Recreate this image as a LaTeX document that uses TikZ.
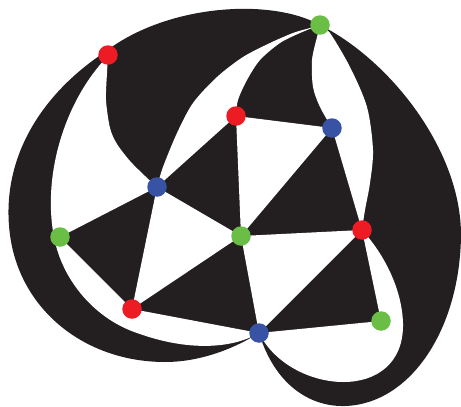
\documentclass[tikz,border=0pt]{standalone}
\definecolor{ink}{HTML}{231F20}
\definecolor{vred}{HTML}{ED1C24}
\definecolor{vgreen}{HTML}{6ABD45}
\definecolor{vblue}{HTML}{3953A4}
\tikzset{
  vtx/.style={circle, inner sep=0pt, minimum size=19.5pt, draw=none},
  darkface/.style={fill=ink},
  lightface/.style={fill=white},
}
\begin{document}
\begin{tikzpicture}[x=1pt, y=-1pt]
\useasboundingbox (0,0) rectangle (461,407);
% vertex positions
\coordinate (r1) at (108,55);
\coordinate (g1) at (320,25);
\coordinate (r2) at (236,116);
\coordinate (b1) at (332,128);
\coordinate (b2) at (157,187);
\coordinate (g2) at (60,237);
\coordinate (g3) at (241,236);
\coordinate (r3) at (362,230);
\coordinate (r4) at (132,309);
\coordinate (b3) at (259,333);
\coordinate (g4) at (381,321);
\coordinate (p1) at (105,52);
\coordinate (p2) at (54,237);
% black silhouette
\fill[darkface] (g1)
  .. controls (270,-3) and (165,5) .. (p1)
  .. controls (40,95) and (0,160) .. (10,235)
  .. controls (20,310) and (85,362) .. (165,362)
  .. controls (205,362) and (240,345) .. (b3)
  .. controls (275,385) and (310,407) .. (345,406)
  .. controls (410,404) and (460,330) .. (461,235)
  .. controls (461,150) and (390,60) .. (g1)
  -- cycle;
% white faces
\fill[lightface] (r1) -- (108,56)
  .. controls (65,100) and (42,175) .. (p2)
  -- (g2) -- (b2)
  -- plot[smooth] coordinates {(157,187) (145,176) (130,161) (117,144) (110,128) (106,100) (107,73) (108,56)}
  -- cycle;
\fill[lightface] (b2) -- (r2)
  -- plot[smooth] coordinates {(236,116) (238,100) (247,80) (260,60) (280,43) (300,33) (320,25)}
  -- plot[smooth] coordinates {(320,25) (310,28) (293,33) (270,43) (243,57) (217,77) (193,103) (177,133) (163,167) (157,187)}
  -- cycle;
\fill[lightface] (g1)
  -- plot[smooth] coordinates {(320,25) (317,37) (312,60) (313,87) (320,107) (332,128)}
  -- (r3)
  -- plot[smooth] coordinates {(362,230) (365,210) (370,183) (373,150) (367,107) (350,67) (330,33) (320,25)}
  -- cycle;
\fill[lightface] (g2) -- (r4) -- (b3)
  .. controls (230,350) and (185,350) .. (140,334)
  .. controls (95,320) and (62,280) .. (p2)
  -- cycle;
\fill[lightface] (b2) -- (r4) -- (g3) -- cycle;
\fill[lightface] (r2) -- (g3) -- (b1) -- cycle;
\fill[lightface] (g3) -- (r3) -- (b3) -- cycle;
\fill[lightface] (r3) -- (g4) -- (b3)
  .. controls (290,395) and (405,405) .. (403,323)
  .. controls (402,290) and (385,255) .. (r3)
  -- cycle;
% vertices
\node[vtx, fill=vred]   (R1) at (r1) {};
\node[vtx, fill=vgreen] (G1) at (g1) {};
\node[vtx, fill=vred]   (R2) at (r2) {};
\node[vtx, fill=vblue]  (B1) at (b1) {};
\node[vtx, fill=vblue]  (B2) at (b2) {};
\node[vtx, fill=vgreen] (G2) at (g2) {};
\node[vtx, fill=vgreen] (G3) at (g3) {};
\node[vtx, fill=vred]   (R3) at (r3) {};
\node[vtx, fill=vred]   (R4) at (r4) {};
\node[vtx, fill=vblue]  (B3) at (b3) {};
\node[vtx, fill=vgreen] (G4) at (g4) {};
\end{tikzpicture}
\end{document}
